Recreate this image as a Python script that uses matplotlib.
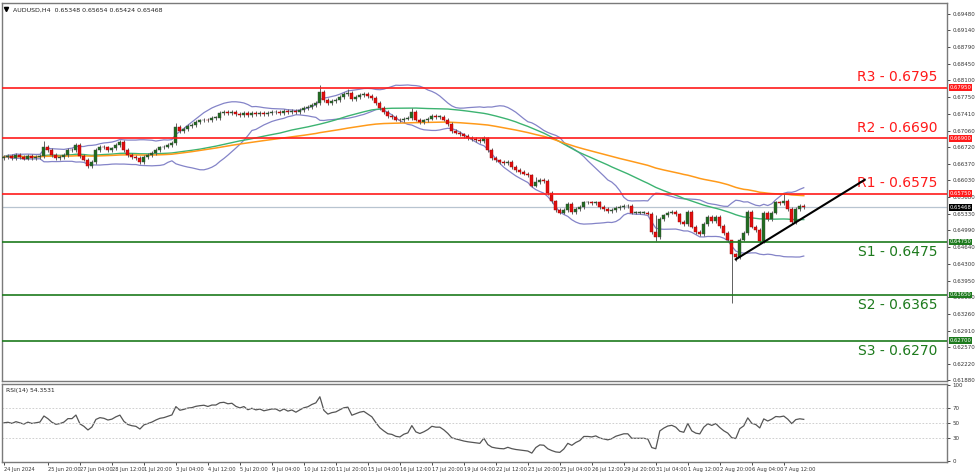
import numpy as np
import pandas as pd
import matplotlib
matplotlib.use("Agg")
import matplotlib.pyplot as plt

closes = [0.6652,0.6654,0.6650,0.6656,0.6652,0.6648,0.6654,0.6650,0.6652,0.6654,
0.6673,0.6666,0.6656,0.6650,0.6652,0.6656,0.6666,0.6666,0.6677,0.6654,
0.6646,0.6633,0.6641,0.6666,0.6673,0.6671,0.6666,0.6669,0.6677,0.6683,
0.6666,0.6656,0.6652,0.6650,0.6641,0.6652,0.6656,0.6660,0.6666,0.6671,
0.6673,0.6677,0.6681,0.6714,0.6706,0.6710,0.6716,0.6718,0.6724,0.6727,
0.6729,0.6727,0.6733,0.6733,0.6743,0.6745,0.6743,0.6745,0.6741,0.6739,
0.6743,0.6739,0.6743,0.6741,0.6743,0.6741,0.6743,0.6745,0.6745,0.6743,
0.6747,0.6745,0.6747,0.6745,0.6749,0.6753,0.6755,0.6760,0.6764,0.6787,
0.6770,0.6764,0.6768,0.6770,0.6776,0.6782,0.6784,0.6772,0.6776,0.6780,
0.6782,0.6778,0.6774,0.6764,0.6753,0.6745,0.6737,0.6735,0.6729,0.6727,
0.6731,0.6733,0.6745,0.6729,0.6724,0.6727,0.6731,0.6737,0.6735,0.6735,
0.6729,0.6720,0.6706,0.6702,0.6698,0.6694,0.6691,0.6689,0.6687,0.6685,
0.6691,0.6666,0.6650,0.6644,0.6640,0.6638,0.6640,0.6631,0.6625,0.6621,
0.6617,0.6613,0.6592,0.6600,0.6604,0.6602,0.6577,0.6559,0.6542,0.6536,
0.6542,0.6553,0.6538,0.6544,0.6548,0.6557,0.6557,0.6555,0.6557,0.6548,
0.6544,0.6540,0.6542,0.6546,0.6548,0.6550,0.6550,0.6536,0.6536,0.6536,
0.6536,0.6534,0.6495,0.6486,0.6522,0.6530,0.6536,0.6538,0.6532,0.6517,
0.6513,0.6538,0.6507,0.6495,0.6491,0.6513,0.6526,0.6519,0.6526,0.6509,
0.6493,0.6480,0.6449,0.6443,0.6480,0.6493,0.6538,0.6507,0.6499,0.6476,
0.6536,0.6522,0.6536,0.6557,0.6555,0.6561,0.6544,0.6517,0.6544,0.6550,
0.65468]
first_open = 0.6650
high_overrides = {10: 0.6685, 43: 0.6722, 79: 0.6800, 86: 0.6792, 102: 0.6752,
                  121: 0.6693, 133: 0.6610, 163: 0.6530, 182: 0.6475, 195: 0.6575}
low_overrides = {21: 0.6628, 34: 0.6636, 112: 0.6700, 163: 0.6478, 182: 0.6349,
                 183: 0.6436, 189: 0.6470}
wick = 0.0004
rsi_seed = 0.0006
rsi_label = "RSI(14) 54.3531"
title_label = "AUDUSD,H4  0.65348 0.65654 0.65424 0.65468"

levels_r = [("R3", 0.6795), ("R2", 0.6690), ("R1", 0.6575)]
levels_s = [("S1", 0.6475), ("S2", 0.6365), ("S3", 0.6270)]
current_price = 0.65468
trend_idx = [183, 215.25]
trend_price = [0.6439, 0.6604]
price_ticks = [0.69480,0.69140,0.68790,0.68450,0.68100,0.67750,0.67410,0.67060,
               0.66720,0.66370,0.66030,0.65680,0.65330,0.64990,0.64640,0.64300,
               0.63950,0.63600,0.63260,0.62910,0.62570,0.62220,0.61880]
date_labels = ["24 Jun 2024","25 Jun 20:00","27 Jun 04:00","28 Jun 12:00","1 Jul 20:00",
               "3 Jul 04:00","4 Jul 12:00","5 Jul 20:00","9 Jul 04:00","10 Jul 12:00",
               "11 Jul 20:00","15 Jul 04:00","16 Jul 12:00","17 Jul 20:00","19 Jul 04:00",
               "22 Jul 12:00","23 Jul 20:00","25 Jul 04:00","26 Jul 12:00","29 Jul 20:00",
               "31 Jul 04:00","1 Aug 12:00","2 Aug 20:00","6 Aug 04:00","7 Aug 12:00"]

c = pd.Series(closes)
n = len(c)
o = c.shift(1).fillna(first_open)
hi = np.maximum(o, c) + wick
lo = np.minimum(o, c) - wick
for k, v in high_overrides.items(): hi[k] = v
for k, v in low_overrides.items(): lo[k] = v

days = pd.bdate_range("2024-06-24", periods=40)
stamps = [d + pd.Timedelta(hours=4*h) for d in days for h in range(6)][:n]
def lab(s):
    return f"{s.day} {s.strftime('%b')} {s.strftime('%H:%M')}"
tick_pos, tick_lab = [], []
for L in date_labels:
    for i, s in enumerate(stamps):
        if (L == "24 Jun 2024" and i == 0) or lab(s) == L:
            tick_pos.append(i); tick_lab.append(L); break

ma_g = c.rolling(50, min_periods=1).mean()
ma_o = c.ewm(span=100, adjust=False).mean()
mid = c.rolling(20, min_periods=1).mean()
sd = c.rolling(20, min_periods=2).std(ddof=0).fillna(0)
bu, bl = mid + 2*sd, mid - 2*sd

d = c.diff().fillna(0).values
ag, al = rsi_seed, rsi_seed
rsi = []
for dv in d:
    ag = (ag*13 + max(dv, 0))/14
    al = (al*13 + max(-dv, 0))/14
    rsi.append(100 - 100/(1 + ag/al))
rsi = np.array(rsi)

fig = plt.figure(figsize=(9.75, 4.76), dpi=100)
ax = fig.add_axes([0.002, 0.2, 0.969, 0.794])
ax2 = fig.add_axes([0.002, 0.029, 0.969, 0.164])
x = np.arange(n)
xl = (-0.5, 235.75)

for i in range(n):
    up_c = c[i] >= o[i]
    col = "#1f6e1f" if up_c else "#e01010"
    ax.vlines(i, lo[i], hi[i], color="#606060", lw=0.7, zorder=2)
    ax.bar(i, abs(c[i]-o[i]) or 0.00004, bottom=min(c[i], o[i]), width=0.75,
           color=col, edgecolor="#404040" if up_c else "#a00000", lw=0.3, zorder=3)

ax.plot(x, bu, color="#8484c8", lw=0.9, zorder=1)
ax.plot(x, bl, color="#8484c8", lw=0.9, zorder=1)
ax.plot(x, ma_g, color="#3cb371", lw=1.0, zorder=1)
ax.plot(x, ma_o, color="#ff9a1a", lw=1.1, zorder=1)

for name, v in levels_r:
    ax.axhline(v, color="#ff1a1a", lw=1.2, zorder=4)
    ax.text(233.5, v + 0.0007, f"{name} - {v:.4f}", color="#ff1a1a", fontsize=10,
            ha="right", va="bottom", zorder=5)
for name, v in levels_s:
    ax.axhline(v, color="#1d7a1d", lw=1.2, zorder=4)
    ax.text(233.5, v - 0.0006, f"{name} - {v:.4f}", color="#1d7a1d", fontsize=10,
            ha="right", va="top", zorder=5)
ax.axhline(current_price, color="#b8c4d0", lw=0.9, zorder=0)
ax.plot(trend_idx, trend_price, color="black", lw=1.5, zorder=6)

ax.set_xlim(*xl)
ax.set_ylim(0.6188 - 0.0001, 0.6971)
ax.yaxis.tick_right()
ax.set_yticks(price_ticks)
ax.set_yticklabels([f"{t:.5f}" for t in price_ticks], fontsize=4.0, color="#333333")
ax.tick_params(axis="y", length=2, width=0.5, pad=2)
ax.set_xticks([])
for sp in ax.spines.values():
    sp.set_color("#7a7a7a"); sp.set_linewidth(1.0)

trans = ax.get_yaxis_transform()
boxes = [(v, "#ff1a1a") for _, v in levels_r] + [(v, "#1d7a1d") for _, v in levels_s] \
        + [(current_price, "black")]
for v, colr in boxes:
    ax.text(1.003, v, f"{v:.5f}", transform=trans, fontsize=3.8, color="white",
            va="center", ha="left", bbox=dict(fc=colr, ec="none", pad=0.6),
            clip_on=False, zorder=7)

ax.text(0.012, 0.988, title_label, transform=ax.transAxes,
        fontsize=4.5, va="top", ha="left", color="#222222")
ax.plot([0.004], [0.984], marker="v", ms=3, color="black", transform=ax.transAxes)

ax2.plot(x, rsi, color="#555555", lw=0.9)
for lv in (30, 50, 70):
    ax2.axhline(lv, color="#c8c8c8", lw=0.6, ls=(0, (2, 2)))
ax2.set_xlim(*xl)
ax2.set_ylim(-2, 101)
ax2.yaxis.tick_right()
ax2.set_yticks([0, 30, 50, 70, 100])
ax2.set_yticklabels(["0", "30", "50", "70", "100"], fontsize=4.0, color="#333333")
ax2.tick_params(axis="y", length=2, width=0.5, pad=2)
ax2.set_xticks(tick_pos)
ax2.set_xticklabels(tick_lab, fontsize=3.7, ha="left", color="#333333")
ax2.tick_params(axis="x", length=2, width=0.5, pad=1.5)
for sp in ax2.spines.values():
    sp.set_color("#7a7a7a"); sp.set_linewidth(1.0)
ax2.text(0.004, 0.95, rsi_label, transform=ax2.transAxes,
         fontsize=4.3, va="top", ha="left", color="#222222")

fig.savefig("out.png", dpi=100)
